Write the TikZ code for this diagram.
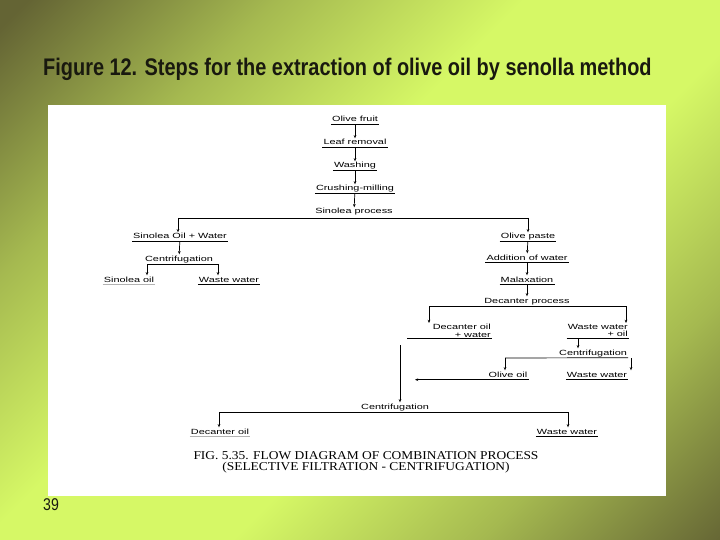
\documentclass[tikz,border=0pt]{standalone}
\usepackage{fontspec}
\setmainfont{Liberation Sans}
\newfontfamily\titlefont[FakeStretch=0.83]{Liberation Sans}
\newfontfamily\flowfont[FakeStretch=1.45]{Liberation Sans}
\newfontfamily\capfont[FakeStretch=1.12]{Liberation Serif}
\usepackage{tikz}
\usetikzlibrary{calc,arrows.meta}
\definecolor{olivedark}{RGB}{100,100,52}
\definecolor{olivemid}{RGB}{165,185,80}
\definecolor{olivelight}{RGB}{214,248,102}
\definecolor{titleink}{RGB}{25,25,15}
\pgfdeclarehorizontalshading{slidebg}{100bp}{color(0bp)=(olivedark); color(16bp)=(olivedark); color(30bp)=(olivemid); color(44bp)=(olivelight); color(58bp)=(olivelight); color(72bp)=(olivemid); color(86bp)=(olivedark); color(100bp)=(olivedark)}
\newcommand{\linew}{0.7pt}

\begin{document}
\begin{tikzpicture}[x=1pt,y=-1pt,
  lbl/.style={font=\flowfont\fontsize{7.5}{7}\selectfont, inner sep=1pt, text height=5.5pt, text depth=1.5pt},
  lbltwo/.style={font=\flowfont\fontsize{7.5}{7.5}\selectfont, inner sep=1pt, align=right},
  arr/.style={line width=\linew, -{Stealth[length=3.2pt,width=2.6pt]}},
  rule/.style={line width=\linew}]
\useasboundingbox (0,0) rectangle (720,540);
\shade[shading=slidebg, shading angle=-45] (0,0) rectangle (720,540);
\fill[white] (48,105) rectangle (666,496);
\node[anchor=base west, inner sep=0pt, text=titleink, font=\titlefont\bfseries\fontsize{24}{28}\selectfont] (title) at (43,76) {Figure 12. Steps for the extraction of olive oil by senolla method};
\node[anchor=base west, inner sep=0pt, text=titleink, font=\titlefont\fontsize{17}{20}\selectfont] (page) at (43,510) {39};
%main line
\node[lbl] (1) at (355,120) {Olive fruit};
\node[lbl] (2) at (355,143) {Leaf removal};
\node[lbl] (3) at (355,166) {Washing};
\node[lbl] (4) at (355,189) {Crushing-milling};
\node[lbl] (5) at (354,212) {Sinolea process};
%sinolea side
\node[lbl] (6) at (180,237) {Sinolea Oil + Water};
\node[lbl] (7) at (179,259) {Centrifugation};
\node[lbl] (8) at (129,280) {Sinolea oil};
\node[lbl] (9) at (229,280) {Waste water};
%decanter side
\node[lbl] (10) at (528,237) {Olive paste};
\node[lbl] (11) at (527,258) {Addition of water};
\node[lbl] (12) at (527,280) {Malaxation};
\node[lbl] (13) at (527,301) {Decanter process};
\node[lbltwo, anchor=north east] (14) at (492,323) {Decanter oil\\+ water};
\node[lbltwo, anchor=north east] (15) at (629,323) {Waste water\\+ oil};
\node[lbl] (16) at (593,353) {Centrifugation};
\node[lbl] (17) at (508,375) {Olive oil};
\node[lbl] (18) at (597,375) {Waste water};
\node[lbl] (19) at (395,407) {Centrifugation};
\node[lbl] (20) at (220,432) {Decanter oil};
\node[lbl] (21) at (567,432) {Waste water};
\node[inner sep=0pt, align=center, font=\capfont\fontsize{12}{11}\selectfont] (22) at (366,462) {FIG. 5.35. FLOW DIAGRAM OF COMBINATION PROCESS\\(SELECTIVE FILTRATION - CENTRIFUGATION)};
%underlines
\draw[rule] (1.south west) -- (1.south east);
\draw[rule] (2.south west) -- (2.south east);
\draw[rule] (3.south west) -- (3.south east);
\draw[rule] (4.south west) -- (4.south east);
\draw[rule] (6.south west) -- (6.south east);
\draw[rule, gray!60] (8.south west) -- (8.south east);
\draw[rule] (9.south west) -- (9.south east);
\draw[rule] (10.south west) -- (10.south east);
\draw[rule] (11.south west) -- (11.south east);
\draw[rule] (12.south west) -- (12.south east);
\draw[rule] (15.south west) -- (15.south east);
\draw[rule] (18.south west) -- (18.south east);
\draw[rule, gray!60] (20.south west) -- (20.south east);
\draw[rule] (21.south west) -- (21.south east);
%arrows
\draw[arr] (1) -- (2);
\draw[arr] (2) -- (3);
\draw[arr] (3) -- (4);
\draw[arr] (4) -- (5);
\coordinate (a) at (178,218);
\coordinate (b) at (528,218);
\draw[rule] (a) -- (b);
\draw[arr] (a) -- (a |- 6.north);
\draw[arr] (b) -- (10.north);
\draw[arr] (6) -- (7);
\coordinate (c) at (147,264);
\coordinate (d) at (218,264);
\draw[rule] (c) -- (d);
\draw[arr] (c) -- (c |- 8.north);
\draw[arr] (d) -- (d |- 9.north);
\draw[arr] (10) -- (11);
\draw[arr] (11) -- (12);
\draw[arr] (12) -- (13);
\coordinate (e) at (429,306);
\coordinate (f) at (626,306);
\draw[rule] (e) -- (f);
\draw[arr] (e) -- (e |- 14.north);
\draw[arr] (f) -- (f |- 15.north);
\coordinate (g) at (407,0);
\draw[rule] (g |- 14.south) -- (14.south east);
\coordinate (h) at (578,0);
\draw[arr] (h |- 15.south) -- (h |- 16.north);
\coordinate (i) at (505,358);
\coordinate (j) at (631,358);
\draw[rule] (i) -- (16.south east);
\draw[arr] (i) -- (i |- 17.north);
\draw[arr] (j) -- (j |- 18.north);
\coordinate (k) at (415,0);
\draw[arr] (17.south east) -- (k |- 17.south);
\coordinate (l) at (400,345);
\draw[arr] (l) -- (l |- 19.north);
\coordinate (m) at (219,412);
\coordinate (n) at (568,412);
\draw[rule] (m) -- (n);
\draw[arr] (m) -- (m |- 20.north);
\draw[arr] (n) -- (n |- 21.north);
\end{tikzpicture}
\end{document}
